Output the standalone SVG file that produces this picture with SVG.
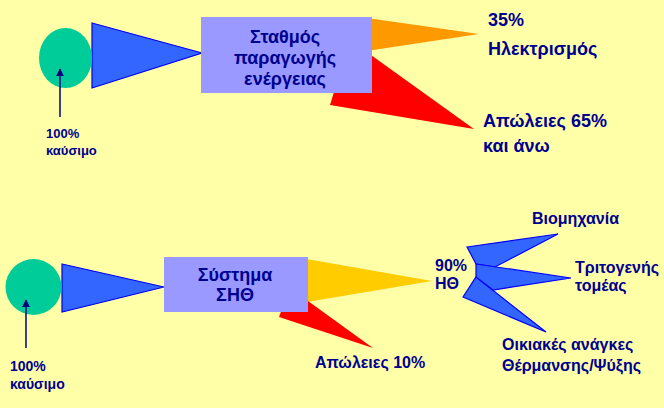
<svg xmlns="http://www.w3.org/2000/svg" width="664" height="408" viewBox="0 0 664 408">
<defs>
<style>
text{font-family:"Liberation Sans",Arial,sans-serif;font-weight:bold;fill:#000090}
.box{fill:#9999FF}
.fuel{fill:#00CC99}
.cone{fill:#3366FF;stroke:#0000EE;stroke-width:1.2}
.dart{fill:#3366FF;stroke:#0000FF;stroke-width:1.2;stroke-linejoin:miter}
.big{font-size:18px}
.mid{font-size:16px}
.sm{font-size:13px}
.sm2{font-size:14px}
.ptr{stroke:#000080;stroke-width:1.5;fill:none}
</style>
<marker id="ah" viewBox="0 0 10 10" refX="9" refY="5" markerWidth="8" markerHeight="8" markerUnits="userSpaceOnUse" orient="auto">
<path d="M0,0L10,5L0,10z" fill="#000080"/>
</marker>
</defs>
<rect width="664" height="408" fill="#FFFFA8"/>

<g id="flows">
<polygon points="360,17 479,34 360,52" fill="#FF9900"/>
<polygon points="350,40 474,129 330,105" fill="#FF0000"/>
<polygon points="92,23 202,53 92,88" class="cone"/>
<polygon points="295,257 432,281 295,304" fill="#FFCC00"/>
<polygon points="290,288 373,348 279,317" fill="#FF0000"/>
<polygon points="62,264 164,287 62,312" class="cone"/>
</g>

<g id="fuel-top">
<ellipse cx="65.5" cy="58" rx="26.5" ry="30" class="fuel"/>
</g>
<g id="fuel-top-label">
<text x="46" y="138" class="sm">100%</text>
<text x="46" y="155" class="sm">καύσιμο</text>
</g>

<g id="power-station">
<rect x="201" y="17" width="171" height="76" class="box"/>
<text x="285" y="43" class="big" text-anchor="middle">Σταθμός</text>
<text x="285" y="64" class="big" text-anchor="middle">παραγωγής</text>
<text x="285" y="85" class="big" text-anchor="middle">ενέργειας</text>
</g>

<g id="electricity">
<text x="488" y="26" class="big">35%</text>
<text x="488" y="55" class="big">Ηλεκτρισμός</text>
</g>

<g id="losses-top">
<text x="483" y="127" class="big">Απώλειες 65%</text>
<text x="483" y="152" class="big">και άνω</text>
</g>

<g id="fuel-bottom">
<circle cx="33.5" cy="287" r="28" class="fuel"/>
</g>
<g id="fuel-bottom-label">
<text x="10" y="371" class="sm2">100%</text>
<text x="10" y="389" class="sm2">καύσιμο</text>
</g>

<g id="chp">
<rect x="164" y="257" width="144" height="55" class="box"/>
<text x="235" y="281" class="big" text-anchor="middle">Σύστημα</text>
<text x="235" y="301" class="big" text-anchor="middle">ΣΗΘ</text>
</g>

<g id="losses-bottom">
<text x="315" y="368" class="mid">Απώλειες 10%</text>
</g>

<g id="chp-output">
<text x="435" y="271" class="mid">90%</text>
<text x="435" y="289" class="mid">ΗΘ</text>
</g>

<g id="distribution">
<polygon points="476,277 546,332 463,297" class="dart"/>
<polygon points="467,247 558,234 495,267 476,264" class="dart"/>
<polygon points="476,264 571,278 493,290 476,277" class="dart"/>
</g>

<g id="industry">
<text x="532" y="224" class="mid">Βιομηχανία</text>
</g>
<g id="tertiary">
<text x="575" y="273" class="mid">Τριτογενής</text>
<text x="575" y="291" class="mid">τομέας</text>
</g>
<g id="household">
<text x="502" y="350" class="mid">Οικιακές ανάγκες</text>
<text x="502" y="371" class="mid">Θέρμανσης/Ψύξης</text>
</g>

<g id="connectors">
<line x1="60" y1="117" x2="60" y2="69" class="ptr" marker-end="url(#ah)"/>
<line x1="26" y1="348" x2="26" y2="300" class="ptr" marker-end="url(#ah)"/>
</g>
</svg>
